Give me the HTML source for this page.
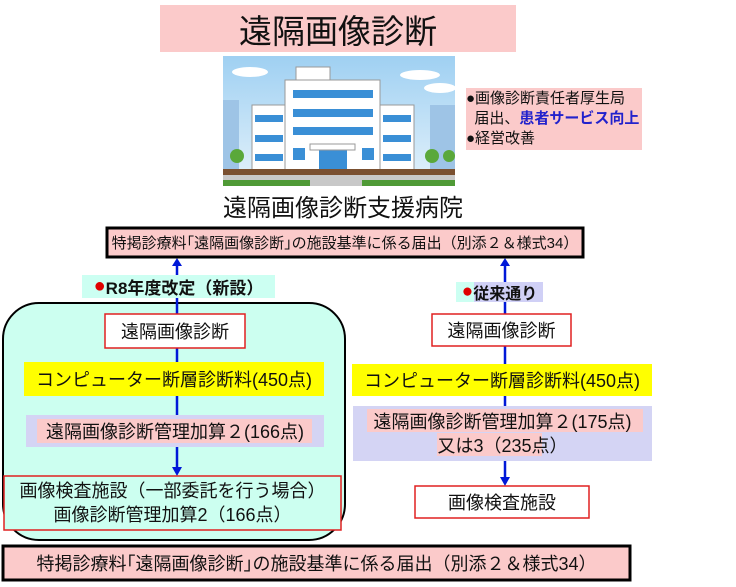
<!DOCTYPE html>
<html><head><meta charset="utf-8"><style>
body{margin:0;width:736px;height:587px;background:#fff;position:relative;overflow:hidden;font-family:"Liberation Sans","Noto Sans CJK JP",sans-serif;color:#111}
.a{position:absolute;box-sizing:border-box;display:flex;align-items:center;justify-content:center;text-align:center;white-space:nowrap}
</style></head><body>
<svg width="736" height="587" style="position:absolute;left:0;top:0">
<defs><linearGradient id="sky" x1="0" y1="0" x2="0" y2="1"><stop offset="0" stop-color="#9fd0f2"/><stop offset="1" stop-color="#e4f2fb"/></linearGradient></defs>
<rect x="160" y="5" width="356" height="47" fill="#fbcaca"/>
<rect x="223" y="56" width="232" height="130" fill="url(#sky)"/>
<ellipse cx="250" cy="72" rx="18" ry="5" fill="#fff"/><ellipse cx="420" cy="75" rx="20" ry="5" fill="#fff"/><ellipse cx="440" cy="88" rx="16" ry="5" fill="#fff"/>
<rect x="223" y="100" width="16" height="70" fill="#9ec4e6"/><rect x="430" y="105" width="25" height="65" fill="#9ec4e6"/>
<rect x="296" y="67" width="34" height="14" fill="#fff" stroke="#999"/>
<rect x="285" y="80" width="95" height="90" fill="#fff" stroke="#999"/>
<rect x="252" y="105" width="33" height="65" fill="#fff" stroke="#999"/>
<rect x="380" y="105" width="34" height="65" fill="#fff" stroke="#999"/>
<g fill="#3a8fd6">
<rect x="293" y="90" width="80" height="8"/><rect x="293" y="109" width="80" height="8"/><rect x="293" y="127" width="80" height="8"/>
<rect x="255" y="115" width="28" height="7"/><rect x="255" y="135" width="28" height="7"/><rect x="255" y="154" width="28" height="7"/>
<rect x="383" y="115" width="28" height="7"/><rect x="383" y="135" width="28" height="7"/><rect x="383" y="154" width="28" height="7"/>
<rect x="293" y="148" width="12" height="12"/><rect x="362" y="148" width="12" height="12"/>
<rect x="319" y="150" width="28" height="20"/></g>
<rect x="310" y="144" width="45" height="6" fill="#fff" stroke="#999"/>
<circle cx="237" cy="156" r="7" fill="#5aa83a"/><circle cx="432" cy="156" r="7" fill="#5aa83a"/><circle cx="449" cy="156" r="6" fill="#5aa83a"/>
<rect x="223" y="169" width="232" height="6" fill="#7a5030"/>
<rect x="223" y="175" width="232" height="11" fill="#c8c8c8"/>
<rect x="223" y="180" width="87" height="6" fill="#4f9a36"/><rect x="362" y="180" width="93" height="6" fill="#4f9a36"/>
<rect x="466" y="88" width="176" height="62" fill="#fbcaca"/>
<rect x="3" y="303" width="342" height="237" rx="36" fill="#ccfff0" stroke="#000" stroke-width="2"/>
<g stroke="#0018d8" stroke-width="2.5" fill="none">
<line x1="177" y1="265" x2="177" y2="468"/>
<line x1="505" y1="265" x2="505" y2="478"/>
</g>
<g fill="#0018d8"><polygon points="172,266 182,266 177,258"/><polygon points="500,266 510,266 505,258"/>
<polygon points="172,467 182,467 177,476"/><polygon points="500,477 510,477 505,486"/></g>
<rect x="107" y="228" width="476" height="29" fill="#fbcaca" stroke="#000" stroke-width="3"/>
<rect x="82" y="275" width="193" height="23" fill="#ccfff2"/>
<rect x="456" y="282" width="18" height="20" fill="#ccfff2"/><rect x="474" y="282" width="69" height="20" fill="#d0d0f6"/>
<rect x="24" y="362" width="300" height="34" fill="#ffff00"/>
<rect x="26" y="415" width="298" height="32" fill="#d4d4f4"/><rect x="37" y="419" width="275" height="24" fill="#fbcaca"/>
<rect x="352" y="364" width="300" height="32" fill="#ffff00"/>
<rect x="353" y="406" width="299" height="55" fill="#d4d4f4"/><rect x="367" y="409" width="276" height="23" fill="#fbcaca"/><rect x="437" y="433" width="105" height="23" fill="#fbcaca"/>
<rect x="3" y="546" width="627" height="34" fill="#fbcaca" stroke="#000" stroke-width="3"/>
<rect x="105" y="314" width="140" height="34" fill="#fff" stroke="#e02020" stroke-width="1.5"/>
<rect x="432" y="314" width="139" height="32" fill="#fff" stroke="#e02020" stroke-width="1.5"/>
<rect x="415" y="486" width="174" height="32" fill="#fff" stroke="#e02020" stroke-width="1.5"/>
<rect x="4" y="476" width="337" height="54" fill="#ccfff0" stroke="#e02020" stroke-width="1.5"/>
</svg>
<div class="a" style="left:160px;top:5px;width:356px;height:47px;font-size:33px">遠隔画像診断</div>
<div class="a" style="left:466px;top:88px;width:180px;height:62px;font-size:15px;line-height:20px;display:block;text-align:left;padding-top:1px">●画像診断責任者厚生局<br>&nbsp;&nbsp;届出、<b style="color:#2222cc">患者サービス向上</b><br>●経営改善</div>
<div class="a" style="left:190px;top:190px;width:306px;height:30px;font-size:24px">遠隔画像診断支援病院</div>
<div class="a" style="left:107px;top:228px;width:476px;height:29px;font-size:15px">特掲診療料｢遠隔画像診断｣の施設基準に係る届出（別添２＆様式34）</div>
<div class="a" style="left:82px;top:275px;width:193px;height:23px;font-size:17px;font-weight:bold"><span style="color:#e00000;font-size:20px">●</span>R8年度改定（新設）</div>
<div class="a" style="left:456px;top:282px;width:87px;height:20px;font-size:16px;font-weight:bold"><span style="color:#e00000;font-size:19px">●</span>従来通り</div>
<div class="a" style="left:105px;top:314px;width:140px;height:34px;font-size:18px">遠隔画像診断</div>
<div class="a" style="left:24px;top:362px;width:300px;height:34px;font-size:18px">コンピューター断層診断料(450点)</div>
<div class="a" style="left:26px;top:415px;width:298px;height:32px;font-size:18px">遠隔画像診断管理加算２(166点)</div>
<div class="a" style="left:4px;top:476px;width:337px;height:54px;font-size:18px;line-height:24px">画像検査施設（一部委託を行う場合）<br>画像診断管理加算2（166点）</div>
<div class="a" style="left:432px;top:314px;width:139px;height:32px;font-size:18px">遠隔画像診断</div>
<div class="a" style="left:352px;top:364px;width:300px;height:32px;font-size:18px">コンピューター断層診断料(450点)</div>
<div class="a" style="left:353px;top:406px;width:299px;height:55px;font-size:18px;line-height:24px">遠隔画像診断管理加算２(175点)<br>又は3（235点）</div>
<div class="a" style="left:415px;top:486px;width:174px;height:32px;font-size:18px">画像検査施設</div>
<div class="a" style="left:3px;top:546px;width:627px;height:34px;font-size:18px">特掲診療料｢遠隔画像診断｣の施設基準に係る届出（別添２＆様式34）</div>
</body></html>
